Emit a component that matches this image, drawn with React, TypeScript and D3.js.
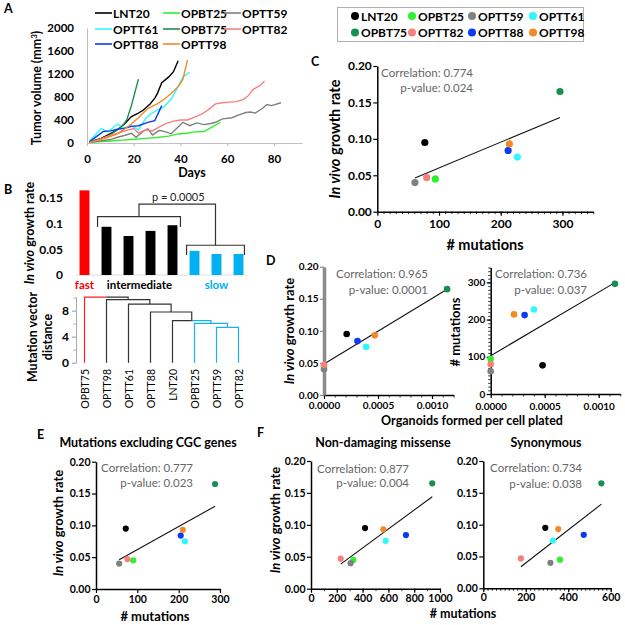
import React, { useEffect, useRef } from 'react';
import * as d3 from 'd3';

const FONT = 'Lato, "DejaVu Sans", sans-serif';

const samples = ['LNT20', 'OPBT25', 'OPTT59', 'OPTT61', 'OPBT75', 'OPTT82', 'OPTT88', 'OPTT98'];
const sampleColors = ['#000000', '#2ff02f', '#808080', '#2ff7ff', '#178f52', '#f7807f', '#0b3af2', '#f28a26'];

// A: tumour volume curves, [day, mm3]
const tumorLNT20 = [[1, 20], [6, 80], [9, 140], [13, 230], [16, 330], [19, 460], [22, 520], [24, 570], [27, 680], [29, 780], [30, 850], [32, 1050], [35, 1150], [37, 1240], [39, 1430]];
const tumorOPBT25 = [[1, 10], [10, 35], [15, 50], [20, 65], [25, 80], [30, 95], [35, 120], [38, 150], [40, 160], [43, 170], [45, 190], [50, 200], [54, 290], [57, 360]];
const tumorOPTT59 = [[1, 10], [5, 30], [10, 60], [13, 100], [16, 130], [19, 170], [21, 100], [24, 200], [26, 250], [28, 140], [31, 220], [34, 190], [36, 160], [39, 280], [41, 360], [44, 300], [47, 350], [50, 320], [53, 340], [55, 360], [58, 420], [62, 440], [65, 490], [68, 530], [70, 540], [72, 520], [75, 600], [77, 670], [79, 650], [83, 700]];
const tumorOPTT61 = [[1, 30], [6, 250], [9, 195], [13, 330], [16, 260], [19, 300], [22, 230], [25, 420], [27, 500], [30, 570], [33, 630], [36, 760], [39, 980], [41, 1150], [44, 1230]];
const tumorOPBT75 = [[1, 15], [6, 70], [9, 120], [12, 200], [15, 290], [17, 400], [19, 650], [22, 1110]];
const tumorOPTT82 = [[1, 10], [5, 60], [9, 120], [13, 170], [17, 220], [20, 250], [22, 170], [25, 230], [28, 210], [31, 280], [34, 340], [37, 380], [40, 400], [43, 400], [46, 450], [49, 500], [52, 580], [55, 680], [58, 700], [61, 710], [64, 720], [67, 760], [69, 820], [71, 930], [74, 1000], [76, 1080]];
const tumorOPTT88 = [[1, 20], [4, 110], [7, 200], [10, 210], [13, 240], [16, 255], [19, 290], [22, 300], [26, 360], [29, 390], [32, 650]];
const tumorOPTT98 = [[1, 15], [5, 50], [9, 100], [13, 160], [16, 240], [19, 330], [22, 440], [24, 520], [26, 600], [28, 640], [30, 680], [33, 760], [36, 860], [39, 980], [41, 1100], [43, 1440]];
const tumorSeries = [tumorLNT20, tumorOPBT25, tumorOPTT59, tumorOPTT61, tumorOPBT75, tumorOPTT82, tumorOPTT88, tumorOPTT98];
const dayTicks = [0, 20, 40, 60, 80];
const volumeTicks = [0, 400, 800, 1200, 1600, 2000];

// B: bars and dendrogram
const barOrder = ['OPBT75', 'OPTT98', 'OPTT61', 'OPTT88', 'LNT20', 'OPBT25', 'OPTT59', 'OPTT82'];
const barRate = [0.165, 0.094, 0.076, 0.086, 0.097, 0.047, 0.041, 0.041];
const rateTicksB = [0, 0.05, 0.1, 0.15];
const fastGroup = ['OPBT75'];
const slowGroup = ['OPBT25', 'OPTT59', 'OPTT82'];
const linkLeft = ['OPTT59', 'OPBT25', 'LNT20', 'OPTT88', 'OPTT61', 'OPTT98', 'OPBT75'];
const linkRight: (string | number)[] = ['OPTT82', 0, 1, 2, 3, 4, 5];
const linkHeight = [5.45, 6.06, 6.46, 7.8, 9.0, 9.7, 10.1];
const distTicks = [0, 4, 8];

// C-F scatter values, samples order
const growthRate = [0.095, 0.045, 0.040, 0.075, 0.165, 0.047, 0.084, 0.093];
const mutationsAll = [77, 94, 61, 227, 296, 80, 212, 214];
const mutationsNoCGC = [72, 90, 56, 215, 288, 76, 205, 210];
const nonDamagingMissense = [419, 328, 307, 579, 940, 230, 736, 561];
const synonymous = [292, 361, 316, 328, 556, 177, 473, 353];
const organoidsVsRate = [0.00021, 0, 0, 0.00039, 0.00114, 0, 0.00031, 0.00047];
const organoidsVsMut = [0.00048, 0, 0, 0.0004, 0.00115, 0, 0.000314, 0.000216];
const rateTicks = [0, 0.05, 0.1, 0.15, 0.2];

const drawOrder = [1, 2, 5, 0, 3, 4, 6, 7];

function growthLabel(g, x, cy, size) {
  const t = g.append('text')
    .attr('transform', `translate(${x},${cy}) rotate(-90)`)
    .attr('dy', '0.35em')
    .attr('text-anchor', 'middle')
    .attr('font-size', size)
    .attr('font-weight', 'bold');
  t.append('tspan').attr('font-style', 'italic').text('In vivo');
  t.append('tspan').text(' growth rate');
}

function label(g, x, y, s, size, opts: any = {}) {
  return g.append('text')
    .attr('x', x).attr('y', y)
    .attr('text-anchor', opts.anchor || 'middle')
    .attr('font-size', size)
    .attr('font-weight', opts.weight || 'bold')
    .attr('fill', opts.fill || '#000')
    .text(s);
}

function styleAxis(a, size, color = '#000', width = 1.5) {
  a.attr('font-family', FONT).attr('font-size', size).attr('font-weight', 'bold');
  a.select('.domain').attr('stroke', color).attr('stroke-width', width);
  a.selectAll('.tick line').attr('stroke', color).attr('stroke-width', 1.2);
  a.selectAll('.tick text').attr('fill', '#000');
}

function minorValues(domain, step) {
  const n = Math.round((domain[1] - domain[0]) / step);
  return d3.range(n + 1).map(i => domain[0] + i * step);
}

function scatter(svg, c) {
  const x = d3.scaleLinear().domain(c.xDomain).range(c.xRange);
  const y = d3.scaleLinear().domain(c.yDomain).range(c.yRange);
  const g = svg.append('g');
  const base = c.yRange[0];
  const left = c.xRange[0];

  if (c.xMinor) {
    g.append('g').attr('transform', `translate(0,${base})`)
      .call(d3.axisBottom(x).tickValues(minorValues(c.xDomain, c.xMinor)).tickSize(2.5).tickFormat(() => '').tickSizeOuter(0))
      .call(a => a.select('.domain').remove())
      .selectAll('line').attr('stroke', '#000').attr('stroke-width', 0.8);
  }
  if (c.yMinor) {
    g.append('g').attr('transform', `translate(${left},0)`)
      .call(d3.axisLeft(y).tickValues(minorValues(c.yDomain, c.yMinor)).tickSize(2.5).tickFormat(() => '').tickSizeOuter(0))
      .call(a => a.select('.domain').remove())
      .selectAll('line').attr('stroke', '#000').attr('stroke-width', 0.8);
  }

  const xa = g.append('g').attr('transform', `translate(0,${base})`)
    .call(d3.axisBottom(x).tickValues(c.xTicks).tickFormat(d3.format(c.xFmt)).tickSize(4).tickPadding(c.xPad).tickSizeOuter(0));
  styleAxis(xa, c.tickSize);
  const ya = g.append('g').attr('transform', `translate(${left},0)`)
    .call(d3.axisLeft(y).tickValues(c.yTicks).tickFormat(d3.format(c.yFmt)).tickSize(4).tickPadding(1.5).tickSizeOuter(0));
  styleAxis(ya, c.tickSize, c.yAxisColor || '#000', c.yAxisWidth || 1.5);

  // least-squares line over the data range
  const mx = d3.mean(c.xs), my = d3.mean(c.ys);
  const slope = d3.sum(c.xs, (v, i) => (v - mx) * (c.ys[i] - my)) / d3.sum(c.xs, v => (v - mx) * (v - mx));
  const x0 = d3.min(c.xs), x1 = d3.max(c.xs);
  g.append('line')
    .attr('x1', x(x0)).attr('y1', y(my + slope * (x0 - mx)))
    .attr('x2', x(x1)).attr('y2', y(my + slope * (x1 - mx)))
    .attr('stroke', '#111').attr('stroke-width', 1.1);

  g.selectAll('circle.pt').data(drawOrder).join('circle')
    .attr('cx', i => x(c.xs[i]))
    .attr('cy', i => y(c.ys[i]))
    .attr('r', c.r)
    .attr('fill', i => sampleColors[i]);

  c.corr.forEach((s, i) => {
    label(g, c.corrX, c.corrY[i], s, c.corrSize, { anchor: 'end', weight: 'normal', fill: '#666' });
  });
}

function drawFigure(svg) {
  svg.attr('font-family', FONT);

  // panel letters
  [['A', 4, 13], ['B', 4, 194], ['C', 311, 66], ['D', 266, 265], ['E', 37, 439], ['F', 257, 437]]
    .forEach(([s, x, y]) => label(svg, x, y, s, 12.5, { anchor: 'start' }));

  // ---------- A ----------
  const ax = d3.scaleLinear().domain([0, 92]).range([87, 302]);
  const ay = d3.scaleLinear().domain([0, 2000]).range([143, 28]);
  const gA = svg.append('g');
  const axA = gA.append('g').attr('transform', 'translate(0,143)')
    .call(d3.axisBottom(ax).tickValues(dayTicks).tickSize(3).tickPadding(9).tickSizeOuter(0));
  styleAxis(axA, 11.5, '#c0c0c0', 1);
  const ayA = gA.append('g').attr('transform', 'translate(87,0)')
    .call(d3.axisLeft(ay).tickValues(volumeTicks).tickFormat(d3.format('d')).tickSize(0).tickPadding(13).tickSizeOuter(0));
  styleAxis(ayA, 11.5, '#c0c0c0', 1);
  const line = d3.line().x(d => ax(d[0])).y(d => ay(d[1]));
  tumorSeries.forEach((s, i) => {
    gA.append('path').datum(s).attr('d', line).attr('fill', 'none')
      .attr('stroke', sampleColors[i]).attr('stroke-width', 1.4);
  });
  const legCols = [95, 163, 224];
  const legRows = [13, 29, 44];
  samples.forEach((s, i) => {
    const lx = legCols[i % 3], ly = legRows[Math.floor(i / 3)];
    gA.append('line').attr('x1', lx).attr('x2', lx + 17).attr('y1', ly).attr('y2', ly)
      .attr('stroke', sampleColors[i]).attr('stroke-width', 1.6);
    label(gA, lx + 18, ly + 4.5, s, 12, { anchor: 'start' });
  });
  const yl = gA.append('text')
    .attr('transform', 'translate(37,88) rotate(-90)').attr('dy', '0.35em')
    .attr('text-anchor', 'middle').attr('font-size', 12.5).attr('font-weight', 'bold');
  yl.append('tspan').text('Tumor volume (mm');
  yl.append('tspan').attr('font-size', 8).attr('dy', '-0.6em').text('3');
  yl.append('tspan').attr('dy', '0.35em').text(')');
  label(gA, 192, 177, 'Days', 12.5);

  // ---------- B bars ----------
  const bx = d3.scaleBand().domain(barOrder).range([73.5, 249.5]).paddingInner(0.55).paddingOuter(0.275);
  const by = d3.scaleLinear().domain([0, 0.2]).range([275, 172.4]);
  const gB = svg.append('g');
  gB.append('line').attr('x1', 75).attr('x2', 247).attr('y1', 275).attr('y2', 275)
    .attr('stroke', '#ddd').attr('stroke-width', 1);
  gB.selectAll('rect').data(barOrder).join('rect')
    .attr('x', d => bx(d)).attr('width', bx.bandwidth())
    .attr('y', (d, i) => by(barRate[i])).attr('height', (d, i) => 275 - by(barRate[i]))
    .attr('fill', d => fastGroup.includes(d) ? '#ff0000' : slowGroup.includes(d) ? '#00b0f0' : '#000');
  const byAxis = gB.append('g').attr('transform', 'translate(68,0)')
    .call(d3.axisLeft(by).tickValues(rateTicksB).tickFormat(d => String(d)).tickSize(0).tickPadding(5));
  styleAxis(byAxis, 12);
  byAxis.select('.domain').remove();
  growthLabel(gB, 30, 233, 12.5);

  // brackets
  const bw = bx.bandwidth();
  const iL = bx('OPTT98') - 4, iR = bx('LNT20') + bw + 3;
  const sL = bx('OPBT25') - 3, sR = bx('OPTT82') + bw + 1;
  const iTop = by(0.1136), sTop = by(0.058), pTop = by(0.138);
  const iMid = (iL + iR) / 2, sMid = (sL + sR) / 2;
  const br = gB.append('g').attr('fill', 'none').attr('stroke', '#333').attr('stroke-width', 1.2);
  br.append('path').attr('d', `M${iL},${by(0.0935)}V${iTop}H${iR}V${by(0.0935)}`);
  br.append('path').attr('d', `M${sL},${by(0.039)}V${sTop}H${sR}V${by(0.039)}`);
  br.append('path').attr('d', `M${iMid},${iTop}V${pTop}H${sMid}V${sTop}`);
  label(gB, (iMid + sMid) / 2 + 1, pTop - 3, 'p = 0.0005', 11, { weight: 'normal', fill: '#222' });
  label(gB, bx('OPBT75') + bw / 2, 289, 'fast', 11.5, { fill: '#ff0000' });
  label(gB, (bx('OPTT98') + bx('LNT20') + bw) / 2, 289, 'intermediate', 11.5);
  label(gB, bx('OPTT59') + bw / 2, 289, 'slow', 11.5, { fill: '#00b0f0' });

  // ---------- B dendrogram ----------
  const dy = d3.scaleLinear().domain([0, 10.2]).range([362.7, 296.4]);
  const gD = svg.append('g');
  const dAxisMinor = gD.append('g').attr('transform', 'translate(76,0)')
    .call(d3.axisLeft(dy).tickValues([2, 6, 10]).tickSize(3).tickFormat(() => '').tickSizeOuter(0));
  dAxisMinor.select('.domain').remove();
  dAxisMinor.selectAll('line').attr('stroke', '#bbb');
  const dAxis = gD.append('g').attr('transform', 'translate(76,0)')
    .call(d3.axisLeft(dy).tickValues(distTicks).tickSize(4).tickPadding(3).tickSizeOuter(0));
  styleAxis(dAxis, 12, '#aaa', 1);
  const nodes: any[] = [];
  const leafNode = name => ({ x: bx(name) + bw / 2, h: 0, leaves: [name] });
  linkLeft.forEach((l, i) => {
    const a = leafNode(l);
    const r = linkRight[i];
    const b = typeof r === 'number' ? nodes[r] : leafNode(r);
    nodes.push({ x: (a.x + b.x) / 2, h: linkHeight[i], leaves: [...a.leaves, ...b.leaves], kids: [a, b] });
  });
  const nodeColor = n => n.leaves.every(v => fastGroup.includes(v)) ? '#ff2020'
    : n.leaves.every(v => slowGroup.includes(v)) ? '#1ab0ee' : '#333';
  nodes.forEach(n => {
    n.kids.forEach(k => {
      gD.append('path').attr('d', `M${n.x},${dy(n.h)}H${k.x}V${dy(k.h)}`)
        .attr('fill', 'none').attr('stroke', nodeColor(k)).attr('stroke-width', 1.2);
    });
  });
  barOrder.forEach(name => {
    gD.append('text')
      .attr('transform', `translate(${bx(name) + bw / 2 + 4},369) rotate(-90)`)
      .attr('text-anchor', 'end').attr('font-size', 10.5).text(name);
  });
  [['Mutation vector', 33], ['distance', 48]].forEach(([s, x]) => {
    gD.append('text').attr('transform', `translate(${x},337) rotate(-90)`).attr('dy', '0.35em')
      .attr('text-anchor', 'middle').attr('font-size', 12.5).attr('font-weight', 'bold').text(s);
  });

  // ---------- legend (top right) ----------
  const gL = svg.append('g');
  gL.append('rect').attr('x', 337.5).attr('y', 7.5).attr('width', 246).attr('height', 34)
    .attr('fill', '#fff').attr('stroke', '#b0b0b0');
  const dotCols = [355, 412, 472, 533];
  samples.forEach((s, i) => {
    const cx = dotCols[i % 4], cy = i < 4 ? 16 : 32.5;
    gL.append('circle').attr('cx', cx).attr('cy', cy).attr('r', 4).attr('fill', sampleColors[i]);
    label(gL, cx + 6, cy + 4.5, s, 12, { anchor: 'start' });
  });

  // ---------- C ----------
  scatter(svg, {
    xs: mutationsAll, ys: growthRate,
    xDomain: [0, 350], xRange: [377.3, 593.3], yDomain: [0, 0.2], yRange: [211.7, 66],
    xTicks: [0, 100, 200, 300], xMinor: 10, yTicks: rateTicks, xFmt: 'd', yFmt: '.2f',
    xPad: 4, tickSize: 12, r: 3.6,
    corr: ['Correlation: 0.774', 'p-value: 0.024'], corrX: 473, corrY: [77, 92], corrSize: 11.5,
  });
  growthLabel(svg, 335, 139, 14.5);
  label(svg, 485, 250, '# mutations', 14.5);

  // ---------- D ----------
  scatter(svg, {
    xs: organoidsVsRate, ys: growthRate,
    xDomain: [0, 0.0012], xRange: [324, 453.6], yDomain: [0, 0.2], yRange: [395, 266.7],
    xTicks: [0, 0.0005, 0.001], xMinor: 0.0001, yTicks: rateTicks, xFmt: '.4f', yFmt: '.2f',
    xPad: 3, tickSize: 10, r: 3.3, yAxisColor: '#8a8a8a', yAxisWidth: 3.5,
    corr: ['Correlation: 0.965', 'p-value: 0.0001'], corrX: 428, corrY: [278, 294], corrSize: 11.5,
  });
  scatter(svg, {
    xs: organoidsVsMut, ys: mutationsAll,
    xDomain: [0, 0.0012], xRange: [490.7, 620.3], yDomain: [0, 340], yRange: [394, 267.5],
    xTicks: [0, 0.0005, 0.001], xMinor: 0.0001, yTicks: [0, 100, 200, 300], yMinor: 10, xFmt: '.4f', yFmt: 'd',
    xPad: 4.5, tickSize: 10, r: 3.3,
    corr: ['Correlation: 0.736', 'p-value: 0.037'], corrX: 587, corrY: [278, 294], corrSize: 11.5,
  });
  growthLabel(svg, 289, 331, 13);
  svg.append('text').attr('transform', 'translate(455,332) rotate(-90)').attr('dy', '0.35em')
    .attr('text-anchor', 'middle').attr('font-size', 13).attr('font-weight', 'bold').text('# mutations');
  label(svg, 472, 425, 'Organoids formed per cell plated', 12.5);

  // ---------- E ----------
  scatter(svg, {
    xs: mutationsNoCGC, ys: growthRate,
    xDomain: [0, 300], xRange: [96, 220], yDomain: [0, 0.2], yRange: [589, 461.7],
    xTicks: [0, 100, 200, 300], yTicks: rateTicks, xFmt: 'd', yFmt: '.2f',
    xPad: 3, tickSize: 10.5, r: 3.1,
    corr: ['Correlation: 0.777', 'p-value: 0.023'], corrX: 193, corrY: [472, 487], corrSize: 11.5,
  });
  label(svg, 148, 447, 'Mutations excluding CGC genes', 12.5);
  growthLabel(svg, 58, 523, 13);
  label(svg, 155, 621, '# mutations', 13);

  // ---------- F ----------
  scatter(svg, {
    xs: nonDamagingMissense, ys: growthRate,
    xDomain: [0, 1000], xRange: [311, 440], yDomain: [0, 0.2], yRange: [588.7, 461],
    xTicks: [0, 200, 400, 600, 800, 1000], xMinor: 100, yTicks: rateTicks, xFmt: 'd', yFmt: '.2f',
    xPad: 1.5, tickSize: 10.5, r: 3.1,
    corr: ['Correlation: 0.877', 'p-value: 0.004'], corrX: 409, corrY: [473, 487], corrSize: 11.5,
  });
  scatter(svg, {
    xs: synonymous, ys: growthRate,
    xDomain: [0, 600], xRange: [483.3, 610.7], yDomain: [0, 0.2], yRange: [588.3, 461],
    xTicks: [0, 200, 400, 600], xMinor: 20, yTicks: rateTicks, xFmt: 'd', yFmt: '.2f',
    xPad: 1.5, tickSize: 10.5, r: 3.1,
    corr: ['Correlation: 0.734', 'p-value: 0.038'], corrX: 582, corrY: [472, 488], corrSize: 11.5,
  });
  label(svg, 383, 447, 'Non-damaging missense', 12.5);
  label(svg, 546, 447, 'Synonymous', 12.5);
  growthLabel(svg, 275, 520, 13);
  label(svg, 463, 618, '# mutations', 12.5);
}

const App = () => {
  const ref = useRef<SVGSVGElement>(null);

  useEffect(() => {
    const svg = d3.select(ref.current);
    svg.selectAll('*').remove();
    drawFigure(svg);
    return () => {
      svg.selectAll('*').remove();
    };
  }, []);

  return (
    <svg
      ref={ref}
      width={625}
      height={625}
      style={{ position: 'absolute', left: 0, top: 0, background: '#fff' }}
    />
  );
};

export default App;
